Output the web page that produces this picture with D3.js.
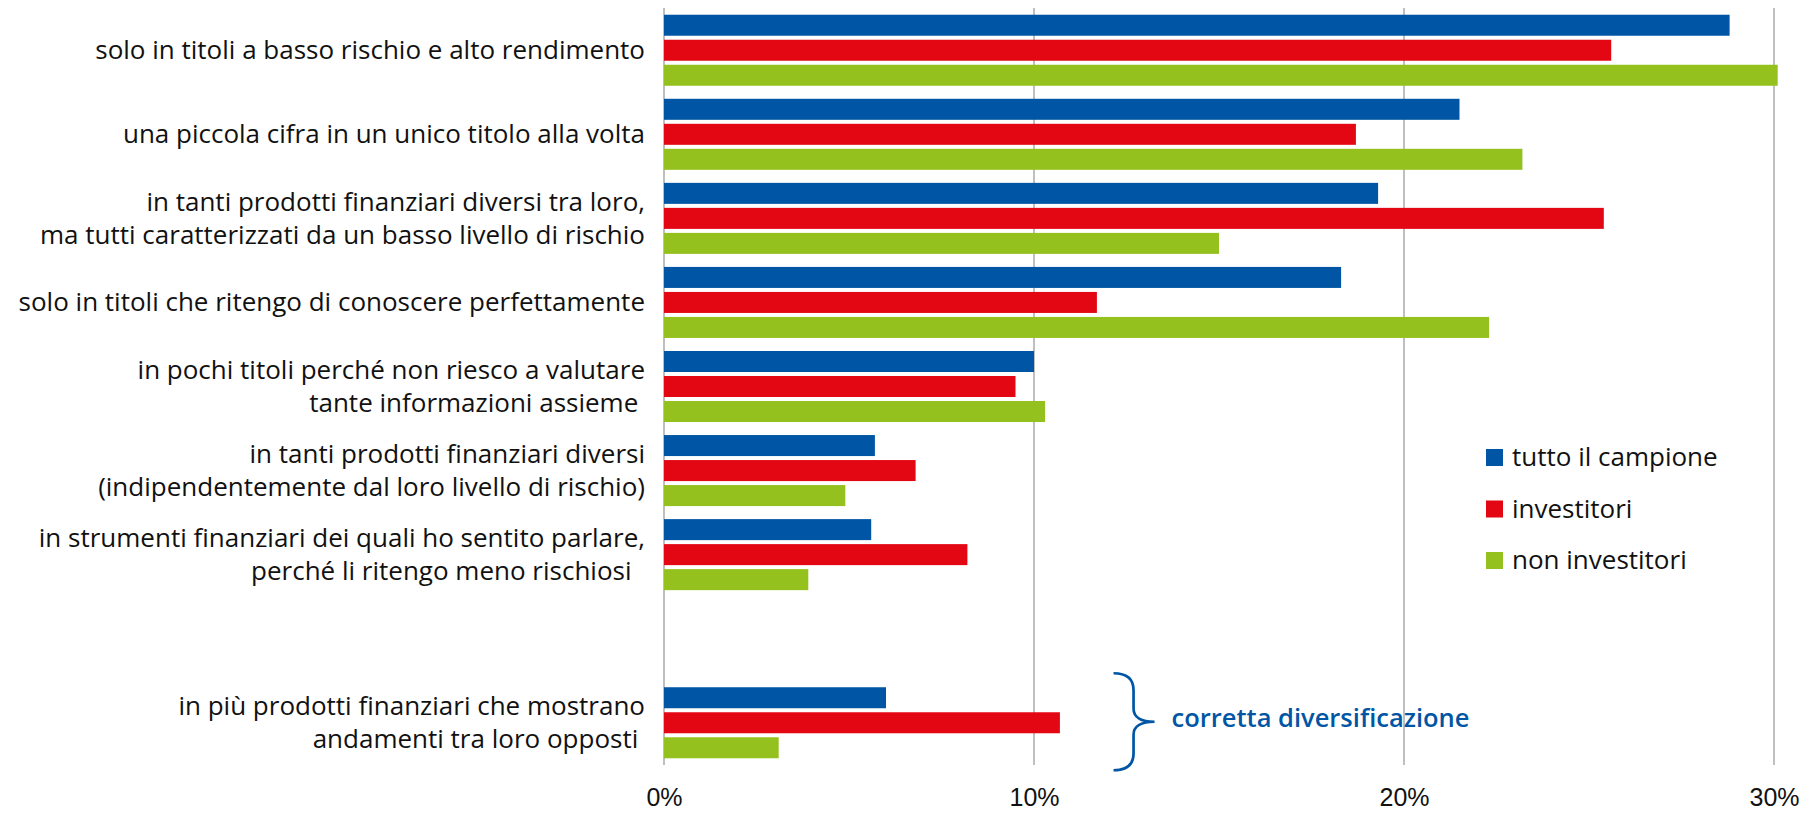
<!DOCTYPE html>
<html>
<head>
<meta charset="utf-8">
<script src="https://cdn.jsdelivr.net/npm/d3@7"></script>
<style>
  body { margin: 0; background: #fff; }
  text { white-space: pre; }
</style>
</head>
<body>
<div id="chart"></div>
<script>
// answer categories, top to bottom (each entry = lines of the label)
const categories = [
  ["solo in titoli a basso rischio e alto rendimento"],
  ["una piccola cifra in un unico titolo alla volta"],
  ["in tanti prodotti finanziari diversi tra loro,", "ma tutti caratterizzati da un basso livello di rischio"],
  ["solo in titoli che ritengo di conoscere perfettamente"],
  ["in pochi titoli perché non riesco a valutare", "tante informazioni assieme "],
  ["in tanti prodotti finanziari diversi", "(indipendentemente dal loro livello di rischio)"],
  ["in strumenti finanziari dei quali ho sentito parlare,", "perché li ritengo meno rischiosi  "],
  ["in più prodotti finanziari che mostrano", "andamenti tra loro opposti "],
];

const seriesNames = ["tutto il campione", "investitori", "non investitori"];
const seriesColors = ["#0056a4", "#e30613", "#95c11f"];

// percentages, same order as categories
const tuttoCampione = [28.8, 21.5, 19.3, 18.3, 10.0, 5.7, 5.6, 6.0];
const investitori = [25.6, 18.7, 25.4, 11.7, 9.5, 6.8, 8.2, 10.7];
const nonInvestitori = [30.1, 23.2, 15.0, 22.3, 10.3, 4.9, 3.9, 3.1];

const xTicks = [0, 10, 20, 30];
const bracketLabel = "corretta diversificazione";

const width = 1818, height = 813;
const labelFont = "'Open Sans', 'Noto Sans', sans-serif";

// one row per category, spacer slot before the last one
const keys = categories.map((c, i) => "c" + i);
const yDomain = [...keys.slice(0, 7), "spacer", keys[7]];

const rows = categories.map((lines, i) => ({
  key: keys[i],
  lines: lines,
  values: [tuttoCampione[i], investitori[i], nonInvestitori[i]],
}));

const svg = d3
  .select("#chart")
  .append("svg")
  .attr("width", width)
  .attr("height", height);

const x = d3.scaleLinear().domain([0, 30]).range([664, 1774]);

const y = d3
  .scaleBand()
  .domain(yDomain)
  .range([8, 765])
  .paddingInner(0.155)
  .paddingOuter(0.08);

const ySub = d3
  .scaleBand()
  .domain(seriesNames)
  .range([0, y.bandwidth()])
  .paddingInner(0.16);

// vertical gridlines
svg
  .append("g")
  .selectAll("line")
  .data(xTicks)
  .join("line")
  .attr("x1", (d) => x(d))
  .attr("x2", (d) => x(d))
  .attr("y1", 8)
  .attr("y2", 765)
  .attr("stroke", "#bfbfbf")
  .attr("stroke-width", 2);

// x axis labels
svg
  .append("g")
  .attr("transform", "translate(0,806)")
  .call(d3.axisBottom(x).tickValues(xTicks).tickFormat((d) => d + "%").tickSize(0))
  .call((g) => g.select(".domain").remove())
  .call((g) =>
    g
      .selectAll(".tick text")
      .attr("y", 0)
      .attr("dy", 0)
      .attr("font-family", "'Liberation Sans', Arial, sans-serif")
      .attr("font-size", 25)
      .attr("fill", "#111")
  );

// bars
const groups = svg
  .append("g")
  .selectAll("g")
  .data(rows)
  .join("g")
  .attr("transform", (d) => `translate(0,${y(d.key)})`);

groups
  .selectAll("rect")
  .data((d) => d.values.map((v, i) => ({ series: seriesNames[i], value: v, i: i })))
  .join("rect")
  .attr("x", x(0))
  .attr("y", (d) => ySub(d.series))
  .attr("width", (d) => x(d.value) - x(0))
  .attr("height", ySub.bandwidth())
  .attr("fill", (d) => seriesColors[d.i]);

// category labels, right aligned
const lineGap = 33;
const labels = svg
  .append("g")
  .selectAll("text")
  .data(rows)
  .join("text")
  .attr("text-anchor", "end")
  .attr("font-family", labelFont)
  .attr("font-size", 26)
  .attr("fill", "#111");

labels
  .selectAll("tspan")
  .data((d) =>
    d.lines.map((l, i) => ({
      text: l,
      y: y(d.key) + y.bandwidth() / 2 + 9 + (i - (d.lines.length - 1) / 2) * lineGap,
    }))
  )
  .join("tspan")
  .attr("x", x(0) - 19)
  .attr("y", (d) => d.y)
  .text((d) => d.text);

// legend
const legend = svg
  .append("g")
  .attr("transform", "translate(1486,449)");

const legendItems = legend
  .selectAll("g")
  .data(seriesNames)
  .join("g")
  .attr("transform", (d, i) => `translate(0,${i * 51.5})`);

legendItems
  .append("rect")
  .attr("width", 17)
  .attr("height", 17)
  .attr("fill", (d, i) => seriesColors[i]);

legendItems
  .append("text")
  .attr("x", 26)
  .attr("y", 17)
  .attr("font-family", labelFont)
  .attr("font-size", 26)
  .attr("fill", "#111")
  .text((d) => d);

// curly bracket next to the last group
const lastKey = keys[7];
const bTop = y(lastKey) - 14;
const bBot = y(lastKey) + y.bandwidth() + 12;
const bMid = (bTop + bBot) / 2;
const bx = x(12.15);
const bPath = d3.path();
bPath.moveTo(bx, bTop);
bPath.bezierCurveTo(bx + 13, bTop, bx + 20, bTop + 5, bx + 20, bTop + 17);
bPath.lineTo(bx + 20, bMid - 13);
bPath.bezierCurveTo(bx + 20, bMid - 5, bx + 27, bMid, bx + 41, bMid);
bPath.bezierCurveTo(bx + 27, bMid, bx + 20, bMid + 5, bx + 20, bMid + 13);
bPath.lineTo(bx + 20, bBot - 17);
bPath.bezierCurveTo(bx + 20, bBot - 5, bx + 13, bBot, bx, bBot);

svg
  .append("path")
  .attr("d", bPath.toString())
  .attr("fill", "none")
  .attr("stroke", "#0056a4")
  .attr("stroke-width", 2.7);

svg
  .append("text")
  .attr("x", bx + 58)
  .attr("y", bMid + 5)
  .attr("font-family", labelFont)
  .attr("font-size", 25.5)
  .attr("font-weight", 600)
  .attr("fill", "#0056a4")
  .text(bracketLabel);
</script>
</body>
</html>
